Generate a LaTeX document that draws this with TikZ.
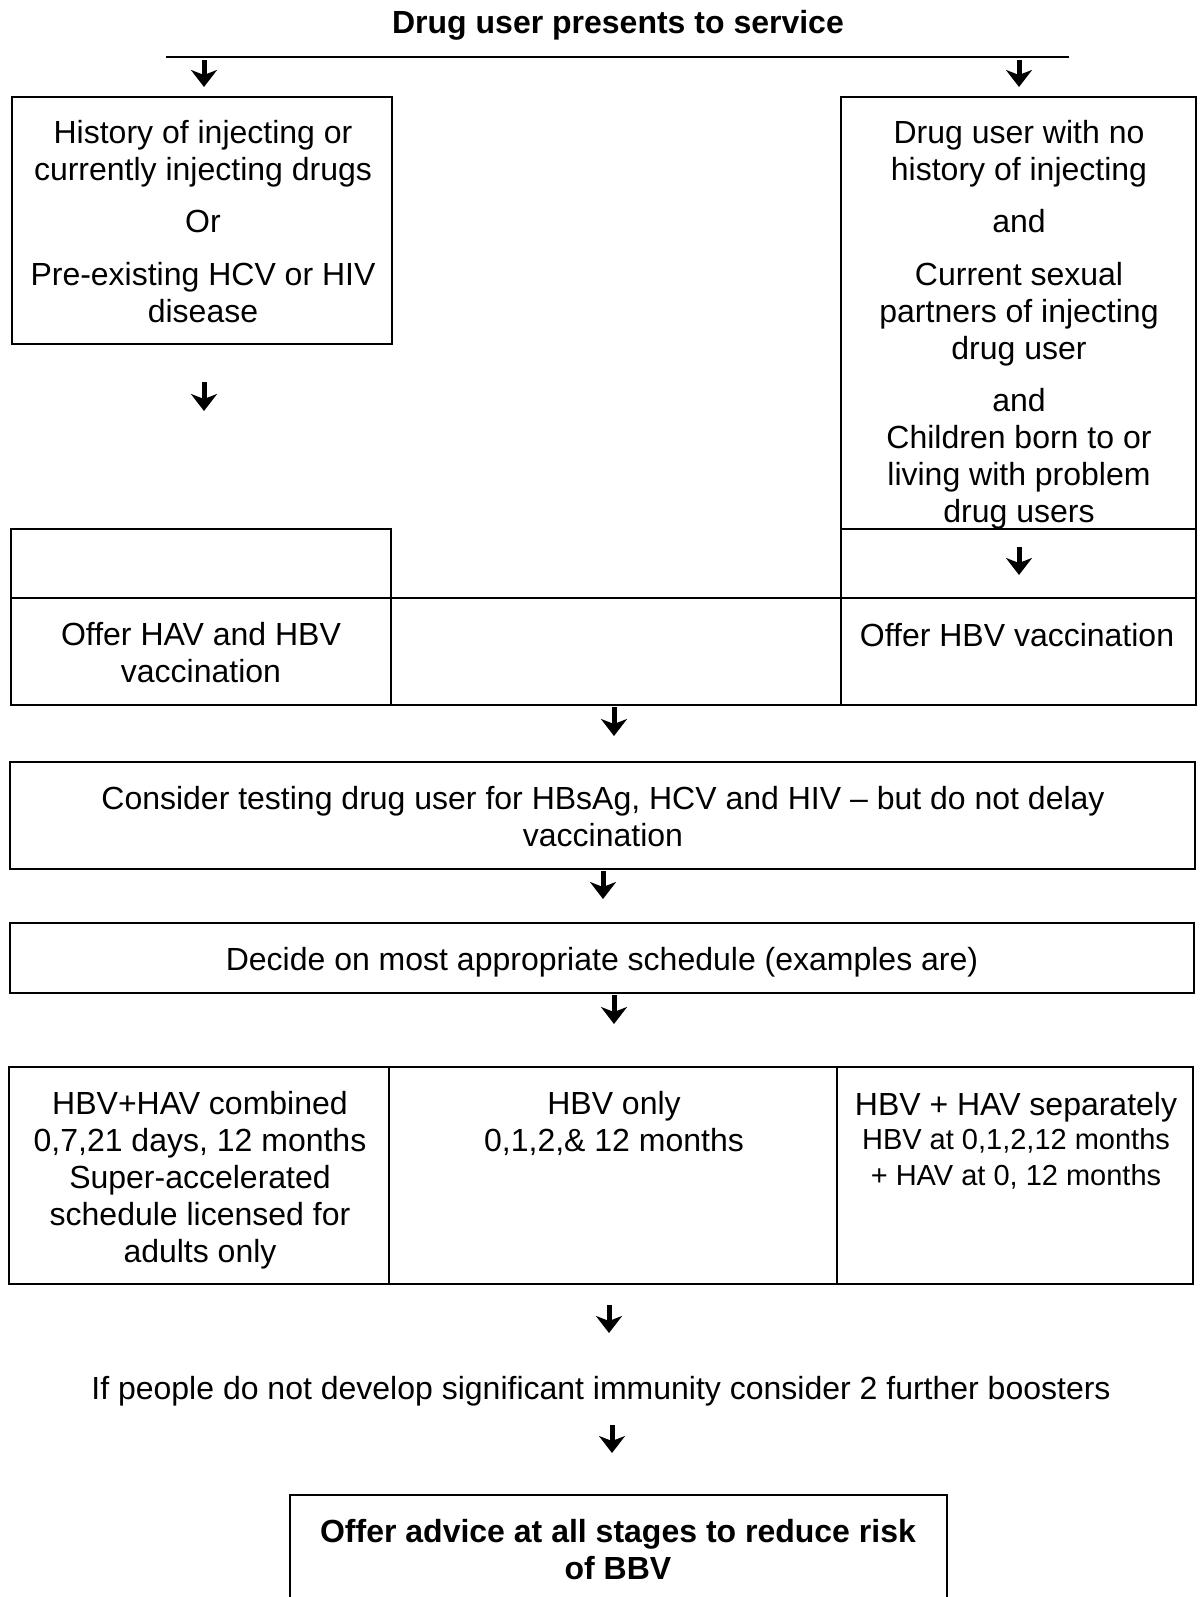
\documentclass[tikz,border=0pt]{standalone}
\usepackage{fontspec}
\setmainfont{Liberation Sans}
\usetikzlibrary{arrows.meta}
\begin{document}
\begin{tikzpicture}[x=1pt,y=-1pt,
  box/.style={draw, line width=1.3pt, inner sep=0pt},
  txt/.style={align=center, inner sep=0pt, font=\fontsize{32}{37}\selectfont},
  small/.style={align=center, inner sep=0pt, font=\fontsize{29}{36}\selectfont},
  arr/.style={line width=5pt, -{Stealth[width=26pt,length=17pt,inset=5pt]}},
]
\useasboundingbox (0,0) rectangle (1202,1597);

% title and top bar
\node[txt, font=\fontsize{32}{37}\selectfont\bfseries] (title) at (618,25) {Drug user presents to service};
\coordinate (barL) at (166,57);
\coordinate (barR) at (1069,57);
\draw[line width=1.8pt] (barL) -- (barR);

% boxes
\node[box, minimum width=380pt, minimum height=247pt] (b1) at (202,220.5) {};
\node[box, minimum width=355pt, minimum height=432pt] (b2) at (1018.5,313) {};
\node[box, minimum width=380pt, minimum height=69pt] (b3) at (201,563.5) {};
\node[box, minimum width=355pt, minimum height=69pt] (b4) at (1018.5,563.5) {};
\node[box, minimum width=380pt, minimum height=107pt] (b5) at (201,651.5) {};
\node[box, minimum width=450pt, minimum height=107pt] (b6) at (616,651.5) {};
\node[box, minimum width=355pt, minimum height=107pt] (b7) at (1018.5,651.5) {};
\node[box, minimum width=1185pt, minimum height=107pt] (b8) at (602.5,815.5) {};
\node[box, minimum width=1184pt, minimum height=70pt] (b9) at (602,958) {};
\node[box, minimum width=380pt, minimum height=217pt] (b10) at (199,1175.5) {};
\node[box, minimum width=448pt, minimum height=217pt] (b11) at (613,1175.5) {};
\node[box, minimum width=356pt, minimum height=217pt] (b12) at (1015,1175.5) {};

% texts
\node[txt] (t1) at (203,222) {History of injecting or\\currently injecting drugs\\[15pt]Or\\[16pt]Pre-existing HCV or HIV\\disease};
\node[txt] (t2) at (1019,325) {Drug user with no\\history of injecting\\[15pt]and\\[16pt]Current sexual\\partners of injecting\\drug user\\[15pt]and\\Children born to or\\living with problem\\drug users};
\node[txt] (t3) at (201,653) {Offer HAV and HBV\\vaccination};
\node[txt] (t4) at (1017,635) {Offer HBV vaccination};
\node[txt] (t5) at (603,817) {Consider testing drug user for HBsAg, HCV and HIV -- but do not delay\\vaccination};
\node[txt] (t6) at (602,962) {Decide on most appropriate schedule (examples are)};
\node[txt] (t7) at (200,1180) {HBV+HAV combined\\0,7,21 days, 12 months\\Super-accelerated\\schedule licensed for\\adults only};
\node[txt] (t8) at (614,1123) {HBV only\\0,1,2,\& 12 months};
\node[txt] (t9a) at (1016,1107) {HBV + HAV separately};
\node[small] (t9b) at (1016,1159) {HBV at 0,1,2,12 months\\+ HAV at 0, 12 months};
\node[txt] (t10) at (601,1391) {If people do not develop significant immunity consider 2 further boosters};

% bottom box (open at the page edge)
\coordinate (bbL) at (290,1597);
\coordinate (bbR) at (947,1597);
\draw[line width=1.3pt] (bbL) |- (947,1495) -- (bbR);
\node[txt, font=\fontsize{32}{37}\selectfont\bfseries] (t11) at (618,1550) {Offer advice at all stages to reduce risk\\of BBV};

% arrows
\coordinate (a1s) at (204,60);  \coordinate (a1e) at (204,87);
\coordinate (a2s) at (1019,60); \coordinate (a2e) at (1019,87);
\coordinate (a3s) at (204,382); \coordinate (a3e) at (204,411);
\coordinate (a4s) at (1019,547); \coordinate (a4e) at (1019,575);
\coordinate (a5s) at (614,707); \coordinate (a5e) at (614,736);
\coordinate (a6s) at (603,871); \coordinate (a6e) at (603,899);
\coordinate (a7s) at (614,995); \coordinate (a7e) at (614,1024);
\coordinate (a8s) at (609,1305); \coordinate (a8e) at (609,1333);
\coordinate (a9s) at (612,1425); \coordinate (a9e) at (612,1453);
\foreach \i in {1,...,9} \draw[arr] (a\i s) -- (a\i e);
\end{tikzpicture}
\end{document}
